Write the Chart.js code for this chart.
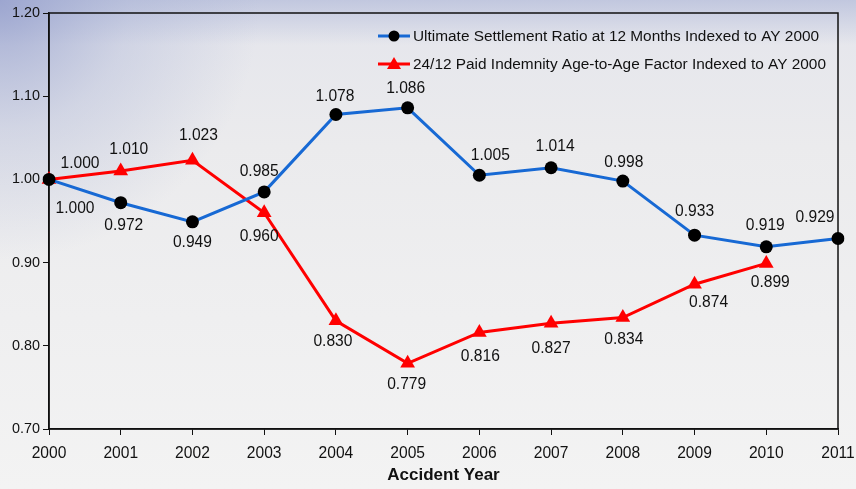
<!DOCTYPE html>
<html>
<head>
<meta charset="utf-8">
<script src="https://cdn.jsdelivr.net/npm/chart.js@4"></script>
<style>
    body { margin: 0; background: #f0f0f0; }
    canvas { display: block; }
</style>
</head>
<body>
<canvas id="ratioChart" width="856" height="489"></canvas>
<script>
// accident years and the two indexed series
const years = ['2000', '2001', '2002', '2003', '2004', '2005', '2006', '2007', '2008', '2009', '2010', '2011'];
const settlementRatio = [1.000, 0.972, 0.949, 0.985, 1.078, 1.086, 1.005, 1.014, 0.998, 0.933, 0.919, 0.929];
const paidFactor = [1.000, 1.010, 1.023, 0.960, 0.830, 0.779, 0.816, 0.827, 0.834, 0.874, 0.899, null];

const seriesNames = [
    'Ultimate Settlement Ratio at 12 Months Indexed to AY 2000',
    '24/12 Paid Indemnity Age-to-Age Factor Indexed to AY 2000'
];

// where each value label sits relative to its point [dx, dy]
const blueLabelShift = [[26, 29], [3, 23], [0, 21], [-5, -20], [-1, -18], [-2, -19], [11, -20], [4, -21], [1, -18], [0, -23], [-1, -21], [-23, -21]];
const redLabelShift = [[31, -16], [8, -21], [6, -25], [-5, 24], [-3, 21], [-1, 21], [1, 24], [0, 25], [1, 22], [14, 18], [4, 19]];

const BLUE = '#1769d4';
const RED = '#ff0000';
const FONT = '"Liberation Sans", Arial, sans-serif';

// soft bluish wash in the top-left corner
const backdrop = {
    id: 'backdrop',
    beforeDraw(chart) {
        const ctx = chart.ctx;
        const w = chart.width, h = chart.height;
        ctx.save();
        let g = ctx.createLinearGradient(0, 0, 0, h);
        g.addColorStop(0, '#e4e5ec');
        g.addColorStop(0.3, '#ebebed');
        g.addColorStop(1, '#f3f3f3');
        ctx.fillStyle = g;
        ctx.fillRect(0, 0, w, h);

        g = ctx.createLinearGradient(0, 0, 0, 45);
        g.addColorStop(0, 'rgba(165,175,212,0.55)');
        g.addColorStop(1, 'rgba(165,175,212,0)');
        ctx.fillStyle = g;
        ctx.fillRect(0, 0, w, 45);

        g = ctx.createRadialGradient(0, 0, 0, 0, 0, 260);
        g.addColorStop(0, 'rgba(150,160,205,0.85)');
        g.addColorStop(0.5, 'rgba(165,175,212,0.35)');
        g.addColorStop(1, 'rgba(165,175,212,0)');
        ctx.fillStyle = g;
        ctx.fillRect(0, 0, 300, 260);
        ctx.restore();
    },
    beforeDatasetsDraw(chart) {
        const a = chart.chartArea;
        const ctx = chart.ctx;
        ctx.save();
        ctx.strokeStyle = '#111';
        ctx.lineWidth = 1.5;
        ctx.strokeRect(a.left, a.top, a.right - a.left, a.bottom - a.top);
        ctx.restore();
    }
};

// value labels next to every point
const valueLabels = {
    id: 'valueLabels',
    afterDatasetsDraw(chart) {
        const ctx = chart.ctx;
        const shifts = [blueLabelShift, redLabelShift];
        ctx.save();
        ctx.font = '15.6px ' + FONT;
        ctx.fillStyle = '#111';
        ctx.textAlign = 'center';
        ctx.textBaseline = 'middle';
        chart.data.datasets.forEach((ds, di) => {
            const meta = chart.getDatasetMeta(di);
            meta.data.forEach((pt, i) => {
                const v = ds.data[i];
                if (v === null) return;
                const s = shifts[di][i];
                ctx.fillText(v.toFixed(3), pt.x + s[0], pt.y + s[1]);
            });
        });
        ctx.restore();
    }
};

// legend drawn inside the plot, top right
const insideLegend = {
    id: 'insideLegend',
    afterDraw(chart) {
        const ctx = chart.ctx;
        const x0 = 378, x1 = 410, textX = 413;
        const rows = [36, 64];
        ctx.save();
        ctx.font = '15.4px ' + FONT;
        ctx.textBaseline = 'middle';
        ctx.textAlign = 'left';
        chart.data.datasets.forEach((ds, i) => {
            const y = rows[i];
            ctx.strokeStyle = ds.borderColor;
            ctx.lineWidth = 3;
            ctx.beginPath();
            ctx.moveTo(x0, y);
            ctx.lineTo(x1, y);
            ctx.stroke();
            const mx = (x0 + x1) / 2;
            ctx.fillStyle = ds.pointBackgroundColor;
            ctx.beginPath();
            if (ds.pointStyle === 'triangle') {
                ctx.moveTo(mx, y - 7);
                ctx.lineTo(mx + 7, y + 5);
                ctx.lineTo(mx - 7, y + 5);
                ctx.closePath();
            } else {
                ctx.arc(mx, y, 5.5, 0, Math.PI * 2);
            }
            ctx.fill();
            ctx.fillStyle = '#111';
            ctx.fillText(seriesNames[i], textX, y + 1);
        });
        ctx.restore();
    }
};

new Chart(document.getElementById('ratioChart'), {
    type: 'line',
    data: {
        labels: years,
        datasets: [
            {
                label: seriesNames[0],
                data: settlementRatio,
                borderColor: BLUE,
                borderWidth: 3,
                pointStyle: 'circle',
                pointRadius: 6.5,
                pointBackgroundColor: '#000',
                pointBorderColor: '#000',
                pointBorderWidth: 0,
                tension: 0
            },
            {
                label: seriesNames[1],
                data: paidFactor,
                borderColor: RED,
                borderWidth: 3,
                pointStyle: 'triangle',
                pointRadius: 8.5,
                pointBackgroundColor: RED,
                pointBorderColor: RED,
                pointBorderWidth: 0,
                tension: 0
            }
        ]
    },
    options: {
        responsive: false,
        animation: false,
        devicePixelRatio: 1,
        layout: {
            padding: { top: 13, right: 18, left: 0, bottom: 0 }
        },
        scales: {
            x: {
                offset: false,
                border: { display: true, color: '#111', width: 1.5 },
                grid: { drawOnChartArea: false, drawTicks: true, tickLength: 6, color: '#111' },
                ticks: {
                    color: '#111',
                    padding: 9,
                    maxRotation: 0,
                    autoSkip: false,
                    font: { family: FONT, size: 15.6 }
                },
                title: {
                    display: true,
                    text: 'Accident Year',
                    color: '#111',
                    padding: { top: 0, bottom: 3 },
                    font: { family: FONT, size: 17, weight: 'bold' }
                },
                afterFit(scale) {
                    scale.height = 60;
                    scale.paddingRight = 0;
                    scale.paddingLeft = 0;
                }
            },
            y: {
                min: 0.7,
                max: 1.2,
                border: { display: true, color: '#111', width: 1.5 },
                grid: { drawOnChartArea: false, drawTicks: true, tickLength: 6, color: '#111' },
                ticks: {
                    stepSize: 0.1,
                    color: '#111',
                    padding: 3,
                    font: { family: FONT, size: 14.4 },
                    callback: v => v.toFixed(2)
                },
                afterFit(scale) { scale.width = 49; }
            }
        },
        plugins: {
            legend: { display: false },
            tooltip: { enabled: false }
        }
    },
    plugins: [backdrop, valueLabels, insideLegend]
});
</script>
</body>
</html>
